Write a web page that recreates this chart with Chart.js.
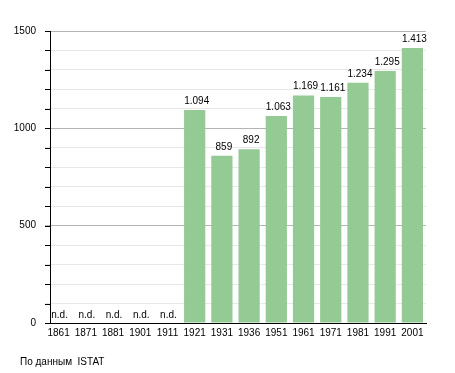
<!DOCTYPE html>
<html>
<head>
<meta charset="utf-8">
<script src="https://cdn.jsdelivr.net/npm/chart.js@4"></script>
<style>
  body { margin: 0; background: #fff; }
  #wrap { position: relative; width: 455px; height: 373px; }
  #note { position: absolute; left: 20px; top: 356px; font: 10px "Liberation Sans", Arial, sans-serif; color: #000; white-space: pre; line-height: 12px; }
</style>
</head>
<body>
<div id="wrap">
  <canvas id="myChart" width="455" height="373"></canvas>
  <div id="note">По данным  ISTAT</div>
</div>
<script>
// years and population (null = no data)
const years = ['1861','1871','1881','1901','1911','1921','1931','1936','1951','1961','1971','1981','1991','2001'];
const population = [null, null, null, null, null, 1094, 859, 892, 1063, 1169, 1161, 1234, 1295, 1413];
const yTickLabels = [0, 500, 1000, 1500];

const FONT = '"Liberation Sans", Arial, sans-serif';

function formatNum(v){
    // italian style thousands -> 1.094
    const s = String(v);
    if (v >= 1000) return s.slice(0, s.length - 3) + '.' + s.slice(-3);
    return s;
}

const valueLabels = {
    id: 'valueLabels',
    afterDatasetsDraw(chart){
        const ctx = chart.ctx;
        const meta = chart.getDatasetMeta(0);
        const yScale = chart.scales.y;
        ctx.save();
        ctx.font = '10px ' + FONT;
        ctx.fillStyle = '#000';
        ctx.textAlign = 'center';
        ctx.textBaseline = 'alphabetic';
        meta.data.forEach(function(bar, i){
            const v = population[i];
            if (v === null) {
                ctx.fillText('n.d.', bar.x + 1, yScale.getPixelForValue(0) - 5);
            } else {
                ctx.fillText(formatNum(v), bar.x + 2, bar.y - 6);
            }
        });
        ctx.restore();
    }
};

// black y axis line with small ticks, sits a bit right of the chart area edge
const yAxisLine = {
    id: 'yAxisLine',
    afterDraw(chart){
        const ctx = chart.ctx;
        const y = chart.scales.y;
        const ax = chart.chartArea.left + 5.5;
        ctx.save();
        ctx.strokeStyle = '#000';
        ctx.lineWidth = 1;
        ctx.beginPath();
        ctx.moveTo(ax, y.getPixelForValue(1500));
        ctx.lineTo(ax, y.getPixelForValue(0));
        y.ticks.forEach(function(t){
            const py = Math.round(y.getPixelForValue(t.value)) + 0.5;
            ctx.moveTo(chart.chartArea.left, py);
            ctx.lineTo(ax, py);
        });
        ctx.stroke();
        ctx.restore();
    }
};

const ctx = document.getElementById('myChart').getContext('2d');
const myChart = new Chart(ctx, {
    type: 'bar',
    data: {
        labels: years,
        datasets: [{
            data: population,
            backgroundColor: 'rgb(148, 202, 148)',
            borderWidth: 0,
            barPercentage: 0.78,
            categoryPercentage: 1
        }]
    },
    options: {
        responsive: false,
        animation: false,
        layout: { padding: { left: 0, top: 31, right: 29, bottom: 0 } },
        plugins: {
            legend: { display: false },
            tooltip: { enabled: false }
        },
        scales: {
            x: {
                afterFit: function(s){ s.height = 50; },
                grid: { display: false, drawTicks: false },
                border: { display: true, color: '#000', width: 1 },
                ticks: {
                    color: '#000',
                    font: { family: FONT, size: 10 },
                    padding: 4,
                    maxRotation: 0,
                    autoSkip: false
                }
            },
            y: {
                min: 0,
                max: 1500,
                afterFit: function(s){ s.width = 45; },
                border: { display: false },
                grid: {
                    drawTicks: false,
                    color: function(c){
                        return c.tick && c.tick.value % 500 === 0 ? '#b4b4b4' : '#e8e8e8';
                    }
                },
                ticks: {
                    stepSize: 100,
                    padding: 9,
                    color: '#000',
                    font: { family: FONT, size: 10 },
                    callback: function(v){ return yTickLabels.includes(v) ? v : ''; }
                }
            }
        }
    },
    plugins: [valueLabels, yAxisLine]
});
</script>
</body>
</html>
